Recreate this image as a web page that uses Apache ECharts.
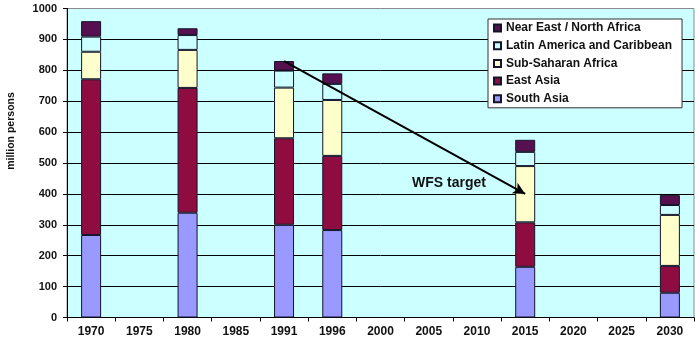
<!DOCTYPE html>
<html>
<head>
<meta charset="utf-8">
<script src="https://cdn.jsdelivr.net/npm/echarts@6/dist/echarts.min.js"></script>
<style>
  html, body { margin: 0; padding: 0; background: #ffffff; }
  #chart { width: 700px; height: 341px; }
</style>
</head>
<body>
<div id="chart"></div>
<script>
// Undernourished population by region (million persons)
const years = ['1970', '1975', '1980', '1985', '1991', '1996', '2000', '2005', '2010', '2015', '2020', '2025', '2030'];

const southAsia     = [267, null, 339, null, 300, 283, null, null, null, 164, null, null, 80];
const eastAsia      = [504, null, 404, null, 280, 240, null, null, null, 144, null, null, 87];
const subSaharan    = [89,  null, 123, null, 164, 181, null, null, null, 182, null, null, 165];
const latinAmerica  = [49,  null, 48,  null, 55,  52,  null, null, null, 46,  null, null, 32];
const nearEast      = [50,  null, 22,  null, 31,  34,  null, null, null, 39,  null, null, 32];

const seriesNames = ['South Asia', 'East Asia', 'Sub-Saharan Africa', 'Latin America and Caribbean', 'Near East / North Africa'];
const legendOrder = ['Near East / North Africa', 'Latin America and Caribbean', 'Sub-Saharan Africa', 'East Asia', 'South Asia'];
const seriesColors = ['#9999FF', '#8E0C40', '#FFFFCC', '#CCFFFF', '#561050'];

// WFS target arrow: from the 1991 total down to the halved 2015 goal
const targetStart = ['1991', 830];
const targetEnd = ['2015', 400];

const font = 'Liberation Sans, Arial, sans-serif';
const chart = echarts.init(document.getElementById('chart'), null, { renderer: 'canvas' });

const values = [southAsia, eastAsia, subSaharan, latinAmerica, nearEast];
const barSeries = seriesNames.map((name, i) => ({
  name: name,
  type: 'bar',
  stack: 'total',
  barWidth: 20,
  data: values[i],
  itemStyle: { color: seriesColors[i], borderColor: '#14142a', borderWidth: 1 },
  emphasis: { disabled: true }
}));

barSeries.push({
  name: 'WFS target',
  type: 'line',
  data: [],
  silent: true,
  markLine: {
    silent: true,
    symbol: ['none', 'arrow'],
    symbolSize: [9, 12],
    label: { show: false },
    lineStyle: { color: '#000', width: 2, type: 'solid' },
    data: [[{ coord: targetStart }, { coord: targetEnd }]]
  }
});

chart.setOption({
  animation: false,
  backgroundColor: '#ffffff',
  grid: {
    left: 67, right: 6, top: 8.5, bottom: 23.5,
    show: true,
    backgroundColor: '#CCFFFF',
    borderColor: '#8a8a8a',
    borderWidth: 1
  },
  legend: {
    data: legendOrder,
    orient: 'vertical',
    left: 488,
    top: 19,
    padding: [2, 10, 2, 5],
    itemGap: 3.7,
    itemWidth: 7,
    itemHeight: 7,
    icon: 'rect',
    backgroundColor: '#ffffff',
    borderColor: '#333',
    borderWidth: 1,
    borderRadius: 0,
    selectedMode: false,
    textStyle: { fontFamily: font, fontWeight: 'bold', fontSize: 12, color: '#111', lineHeight: 14 }
  },
  xAxis: {
    type: 'category',
    data: years,
    boundaryGap: true,
    axisLine: { lineStyle: { color: '#000', width: 1 } },
    axisTick: { show: true, interval: 0, length: 4, alignWithLabel: false, lineStyle: { color: '#000' } },
    axisLabel: { interval: 0, margin: 8, fontFamily: font, fontWeight: 'bold', fontSize: 12, color: '#111' },
    splitLine: { show: false }
  },
  yAxis: {
    type: 'value',
    min: 0,
    max: 1000,
    interval: 100,
    axisLine: { show: true, lineStyle: { color: '#000', width: 1 } },
    axisTick: { show: true, length: 4, lineStyle: { color: '#000' } },
    axisLabel: {
      margin: 10, fontFamily: font, fontWeight: 'bold', fontSize: 11, color: '#111',
      formatter: v => String(v)
    },
    splitLine: { show: true, showMaxLine: false, lineStyle: { color: '#000', width: 1 } }
  },
  graphic: [
    {
      type: 'text',
      left: 412,
      top: 176,
      silent: true,
      style: { text: 'WFS target', font: 'bold 14px ' + font, fill: '#111' }
    },
    {
      type: 'text',
      x: 11,
      y: 131,
      rotation: Math.PI / 2,
      silent: true,
      style: { text: 'million persons', font: 'bold 10.5px ' + font, fill: '#111', align: 'center', verticalAlign: 'middle' }
    }
  ],
  series: barSeries
});
</script>
</body>
</html>
